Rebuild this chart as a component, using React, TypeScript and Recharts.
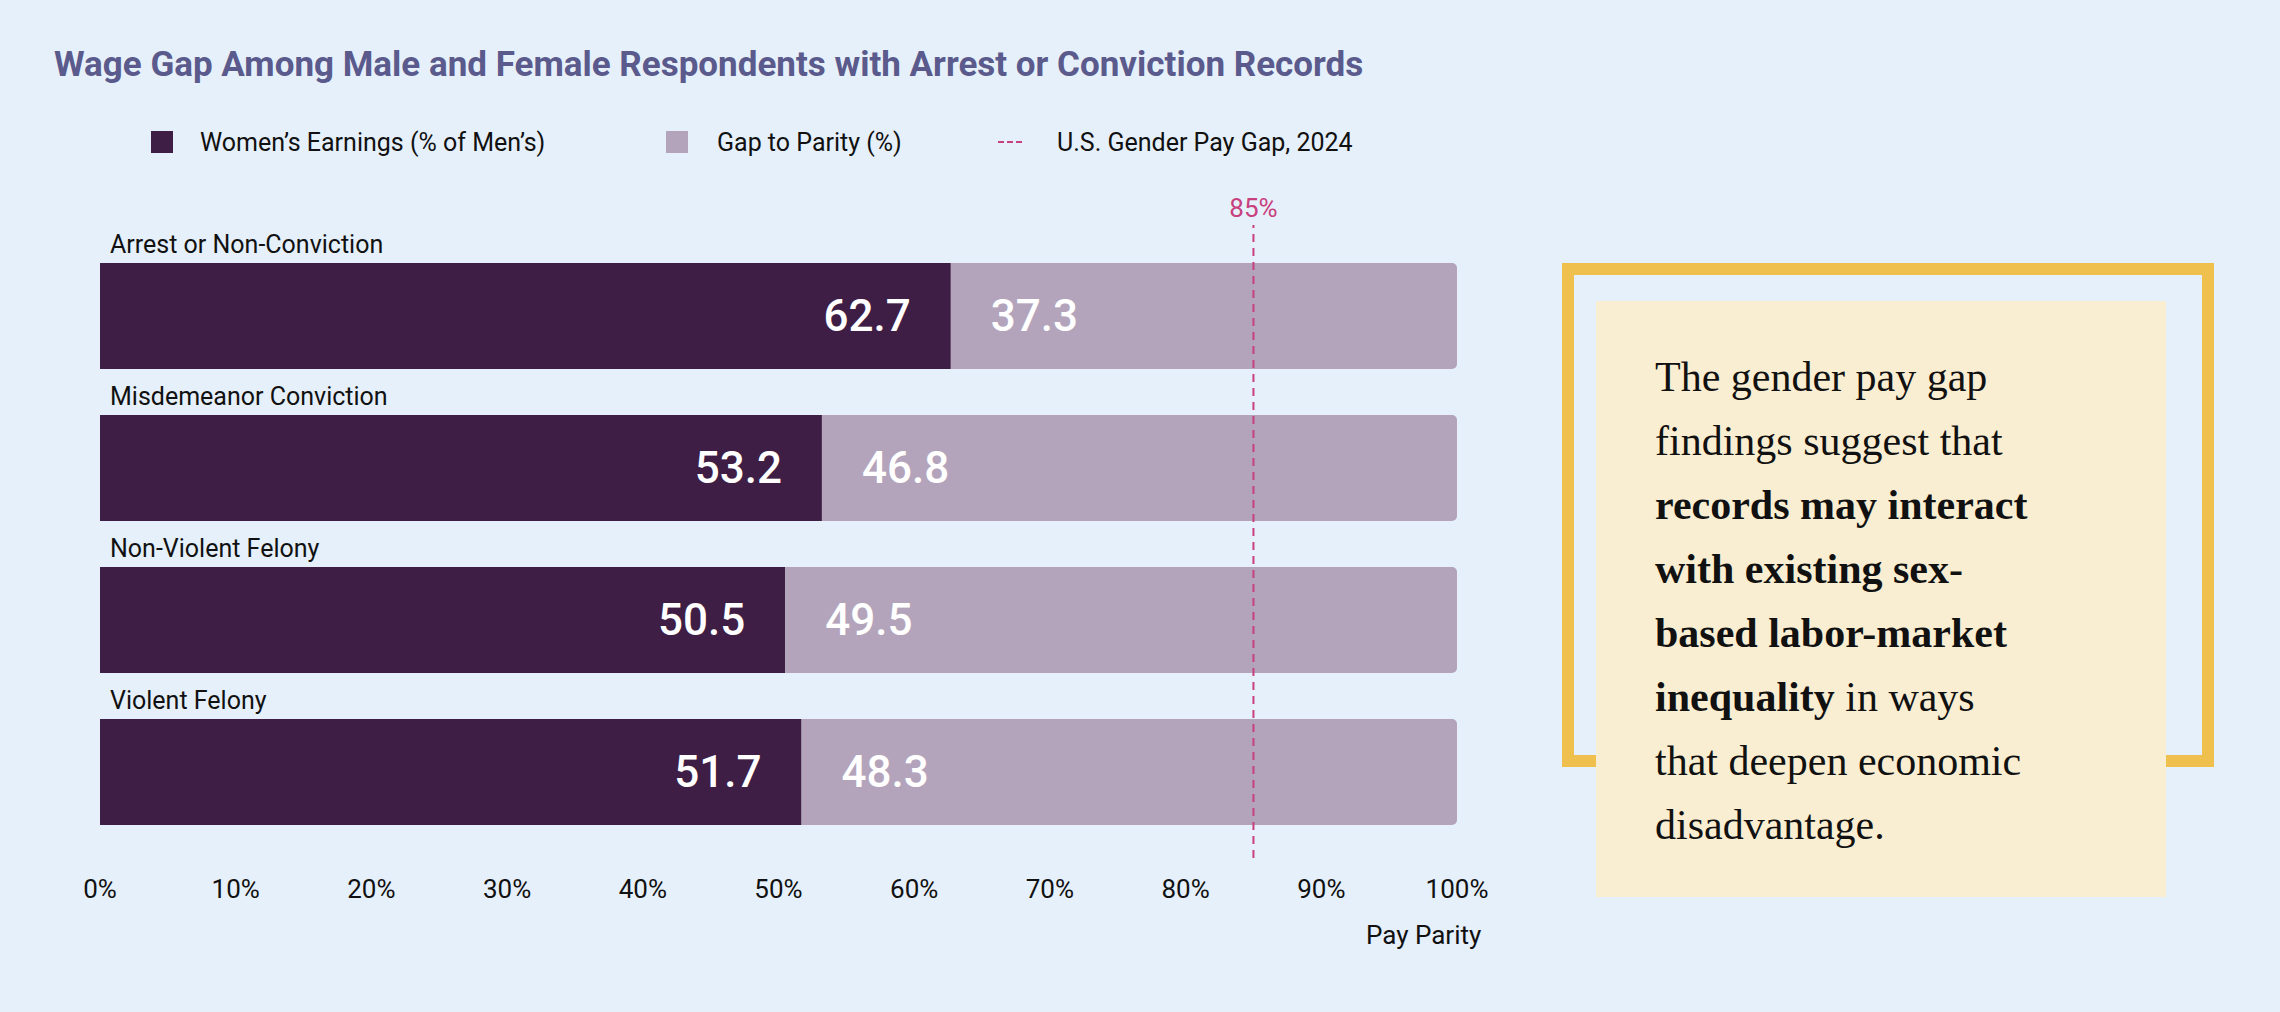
import React from 'react';
import { BarChart, Bar, XAxis, YAxis, ReferenceLine, LabelList } from 'recharts';

const CATEGORIES = ['Arrest or Non-Conviction', 'Misdemeanor Conviction', 'Non-Violent Felony', 'Violent Felony'];
const WOMEN = [62.7, 53.2, 50.5, 51.7];
const GAP = [37.3, 46.8, 49.5, 48.3];
const TICKS = [0, 10, 20, 30, 40, 50, 60, 70, 80, 90, 100];
const US_GAP = 85;

const data = CATEGORIES.map((name, i) => ({ name, women: WOMEN[i], gap: GAP[i] }));

const FONT = 'Roboto, "Noto Sans", sans-serif';
const DARK = '#3E1E44';
const LIGHT = '#B3A4BC';
const PINK = '#C8407E';
const BG = '#E6F0FA';

const WomenLabel = (props: any) => {
  const { x, y, width, height, value, index } = props;
  return (
    <g>
      <text x={x + 10} y={y - 10} fontSize={25} fill="#111" fontFamily={FONT}>{CATEGORIES[index]}</text>
      <text x={x + width - 40} y={y + height / 2 + 15} fontSize={44} fill="#fff" textAnchor="end" fontFamily={FONT} fontWeight={500}>{value}</text>
    </g>
  );
};

const GapLabel = (props: any) => {
  const { x, y, height, value } = props;
  return (
    <text x={x + 40} y={y + height / 2 + 15} fontSize={44} fill="#fff" fontFamily={FONT} fontWeight={500}>{value}</text>
  );
};

const legendText: React.CSSProperties = { position: 'absolute', top: 128, fontSize: 25, color: '#111', fontFamily: FONT };

export default function App() {
  return (
    <div style={{ position: 'fixed', left: 0, top: 0, width: 2280, height: 1012, background: BG, overflow: 'hidden', fontFamily: FONT }}>
      <div style={{ position: 'absolute', left: 54, top: 44, fontSize: 35, fontWeight: 700, color: '#5A5A8C' }}>
        Wage Gap Among Male and Female Respondents with Arrest or Conviction Records
      </div>
      {/* legend */}
      <div style={{ position: 'absolute', left: 151, top: 131, width: 22, height: 22, background: DARK }} />
      <div style={{ ...legendText, left: 200 }}>Women’s Earnings (% of Men’s)</div>
      <div style={{ position: 'absolute', left: 666, top: 131, width: 22, height: 22, background: LIGHT }} />
      <div style={{ ...legendText, left: 717 }}>Gap to Parity (%)</div>
      <div style={{ position: 'absolute', left: 998, top: 141, width: 24, borderTop: `2px dashed ${PINK}` }} />
      <div style={{ ...legendText, left: 1057 }}>U.S. Gender Pay Gap, 2024</div>

      <div style={{ position: 'absolute', left: 0, top: 0 }}>
        <BarChart width={2280} height={1012} data={data} layout="vertical" barSize={106}
          margin={{ top: 225, right: 823, left: 100, bottom: 114 }}>
          <XAxis type="number" domain={[0, 100]} ticks={TICKS} tickFormatter={(v) => `${v}%`}
            axisLine={false} tickLine={false} height={40} interval={0}
            tick={{ fontSize: 26, fill: '#111', fontFamily: FONT, dy: 14 }} />
          <YAxis type="category" dataKey="name" width={0} tick={false} tickLine={false}
            axisLine={{ stroke: '#888', strokeWidth: 2 }} padding={{ top: 15, bottom: 10 }} />
          <Bar dataKey="women" stackId="a" fill={DARK} isAnimationActive={false}>
            <LabelList dataKey="women" content={WomenLabel} />
          </Bar>
          <Bar dataKey="gap" stackId="a" fill={LIGHT} radius={[0, 5, 5, 0]} isAnimationActive={false}>
            <LabelList dataKey="gap" content={GapLabel} />
          </Bar>
          <ReferenceLine x={US_GAP} stroke={PINK} strokeWidth={2} strokeDasharray="8 6"
            label={{ value: '85%', position: 'top', fill: PINK, fontSize: 26, fontFamily: FONT, offset: 8 }} />
        </BarChart>
      </div>
      <div style={{ position: 'absolute', left: 1366, top: 920, fontSize: 26, color: '#111' }}>Pay Parity</div>

      {/* callout */}
      <div style={{ position: 'absolute', left: 1562, top: 263, width: 628, height: 480, border: '12px solid #EFC04E' }} />
      <div style={{ position: 'absolute', left: 1596, top: 301, width: 570, height: 596, background: '#FAEED2', boxSizing: 'border-box', padding: '44px 0 0 59px', fontFamily: '"Liberation Serif", "DejaVu Serif", serif', fontSize: 42, lineHeight: '64px', color: '#111' }}>
        The gender pay gap<br />findings suggest that<br />
        <b>records may interact<br />with existing sex-<br />based labor-market<br />inequality</b> in ways<br />
        that deepen economic<br />disadvantage.
      </div>
    </div>
  );
}
